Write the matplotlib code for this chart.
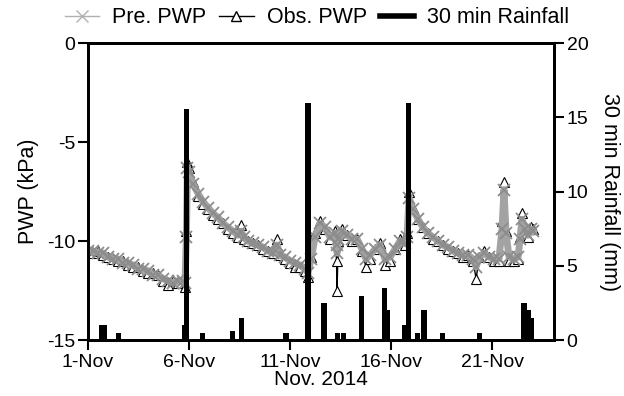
import numpy as np
import matplotlib
matplotlib.use("Agg")
import matplotlib.pyplot as plt
from matplotlib.lines import Line2D

plt.rcParams['font.family'] = ['Liberation Sans', 'DejaVu Sans']

# days since 1-Nov 2014
obs_t = [0.0, 0.25, 0.5, 0.74, 0.99, 1.24, 1.49, 1.73, 1.98, 2.23, 2.48, 2.72, 2.97, 3.22,
         3.47, 3.71, 3.96, 4.21, 4.46, 4.70, 4.80, 4.87, 4.92, 5.0, 5.2, 5.45, 5.69, 5.94,
         6.19, 6.44, 6.68, 6.93, 7.18, 7.43, 7.57, 7.72, 7.92, 8.17, 8.42, 8.66, 8.91, 9.16,
         9.36, 9.5, 9.75, 10.0, 10.25, 10.49, 10.74, 10.89, 11.04, 11.24, 11.48, 11.73,
         11.98, 12.23, 12.3, 12.33, 12.38, 12.57, 12.82, 13.07, 13.32, 13.56, 13.76, 13.96,
         14.21, 14.45, 14.7, 14.95, 15.2, 15.44, 15.69, 15.79, 15.89, 16.09, 16.34, 16.58,
         16.83, 17.08, 17.33, 17.57, 17.82, 18.07, 18.32, 18.56, 18.81, 19.06, 19.21, 19.36,
         19.6, 19.85, 20.1, 20.34, 20.49, 20.59, 20.69, 20.84, 21.09, 21.29, 21.38, 21.48,
         21.63, 21.78, 21.93, 22.03]
obs_pwp = [-10.4, -10.6, -10.5, -10.7, -10.8, -10.9, -11.0, -11.0, -11.2, -11.3, -11.3,
           -11.5, -11.6, -11.6, -11.7, -12.0, -12.2, -12.0, -12.1, -11.9, -12.3, -9.5,
           -6.0, -6.3, -7.0, -7.7, -8.1, -8.4, -8.7, -8.9, -9.1, -9.4, -9.6, -9.8, -9.2,
           -9.9, -10.0, -10.1, -10.2, -10.4, -10.5, -10.6, -9.9, -10.7, -10.9, -11.1,
           -11.3, -11.3, -11.5, -11.8, -10.8, -9.6, -9.0, -9.4, -9.9, -9.5, -11.0, -12.5,
           -10.0, -9.4, -9.7, -10.0, -9.9, -10.5, -11.3, -10.9, -10.4, -10.1, -11.2,
           -11.0, -10.4, -9.9, -10.2, -9.6, -7.5, -8.3, -8.9, -9.3, -9.6, -9.9, -10.0,
           -10.2, -10.4, -10.5, -10.6, -10.8, -10.7, -11.0, -11.9, -10.8, -10.5, -10.8,
           -11.0, -11.0, -9.0, -7.0, -9.5, -11.0, -11.0, -10.9, -9.8, -8.6, -9.4, -9.8,
           -9.3, -9.4]
pre_pwp = [-10.5, -10.5, -10.6, -10.6, -10.8, -10.9, -10.9, -11.1, -11.1, -11.2, -11.4,
           -11.4, -11.5, -11.7, -11.7, -11.9, -12.0, -12.1, -12.0, -12.0, -12.1, -9.8,
           -6.3, -6.5, -7.1, -7.6, -8.0, -8.3, -8.6, -8.8, -9.1, -9.3, -9.5, -9.7, -9.5,
           -9.8, -10.0, -10.1, -10.2, -10.3, -10.5, -10.6, -10.2, -10.7, -10.8, -11.0,
           -11.1, -11.2, -11.4, -11.6, -10.9, -9.8, -9.1, -9.3, -9.8, -9.6, -10.2, -10.6,
           -9.9, -9.5, -9.7, -9.9, -9.9, -10.4, -10.9, -10.7, -10.4, -10.2, -10.9,
           -10.8, -10.4, -10.0, -10.1, -9.8, -7.8, -8.4, -8.9, -9.3, -9.6, -9.8, -10.0,
           -10.2, -10.3, -10.5, -10.6, -10.7, -10.7, -10.9, -11.3, -10.8, -10.6, -10.8,
           -10.9, -10.9, -9.4, -7.4, -9.6, -10.8, -10.9, -10.8, -9.9, -8.9, -9.4, -9.7,
           -9.4, -9.5]

rain_t = [0.68, 0.82, 1.53, 4.78, 4.89, 5.69, 7.16, 7.61, 9.8, 10.89, 11.68, 12.34, 12.64,
          13.55, 14.67, 14.82, 15.69, 15.86, 16.3, 16.63, 17.56, 19.36, 21.58, 21.8, 21.96]
rain_mm = [1.0, 1.0, 0.5, 1.0, 15.6, 0.5, 0.6, 1.5, 0.5, 16.0, 2.5, 0.5, 0.5,
           3.0, 3.5, 2.0, 1.0, 16.0, 0.5, 2.0, 0.5, 0.5, 2.5, 2.0, 1.5]

xtick_pos = [0, 5, 10, 15, 20]
xtick_labels = ['1-Nov', '6-Nov', '11-Nov', '16-Nov', '21-Nov']

fig = plt.figure(figsize=(6.24, 3.96), dpi=100)
ax = fig.add_axes([0.141, 0.141, 0.747, 0.750])

ax.plot(obs_t, obs_pwp, color='black', lw=1, marker='^', ms=7,
        mfc='white', mec='black', mew=0.8, zorder=2)
ax.plot(obs_t, pre_pwp, color='#a3a3a3', lw=5, marker='x', ms=8,
        mec='#8c8c8c', mew=1.3, zorder=3)

ax.set_xlim(0, 23.07)
ax.set_ylim(-15, 0)
ax.set_yticks([-15, -10, -5, 0])
ax.set_yticklabels(['-15', '-10', '-5', '0'])
ax.set_xticks(xtick_pos)
ax.set_xticklabels(xtick_labels)
ax.set_ylabel('PWP (kPa)', fontsize=15.5, labelpad=6)
ax.set_xlabel('Nov. 2014', fontsize=15, labelpad=-1)

ax2 = ax.twinx()
ax2.bar(rain_t, rain_mm, width=0.25, color='black', zorder=4)
ax2.set_ylim(0, 20)
ax2.set_yticks([0, 5, 10, 15, 20])
ax2.set_ylabel('30 min Rainfall (mm)', fontsize=15.5, rotation=-90, labelpad=23)

for a in (ax, ax2):
    for s in a.spines.values():
        s.set_linewidth(2)
    a.tick_params(width=1.5, length=7, labelsize=14, direction='out', pad=2)
ax.tick_params(axis='x', pad=3)

handles = [
    Line2D([], [], color='#b0b0b0', lw=1, marker='x', ms=8, mec='#b0b0b0'),
    Line2D([], [], color='black', lw=1, marker='^', ms=7, mfc='white', mec='black'),
    Line2D([], [], color='black', lw=4),
]
fig.legend(handles, ['Pre. PWP', 'Obs. PWP', '30 min Rainfall'], loc='upper center',
           bbox_to_anchor=(0.508, 1.03), ncol=3, frameon=False, fontsize=15.5,
           handlelength=1.6, columnspacing=0.6, handletextpad=0.6)

fig.savefig('out.png', dpi=100)
